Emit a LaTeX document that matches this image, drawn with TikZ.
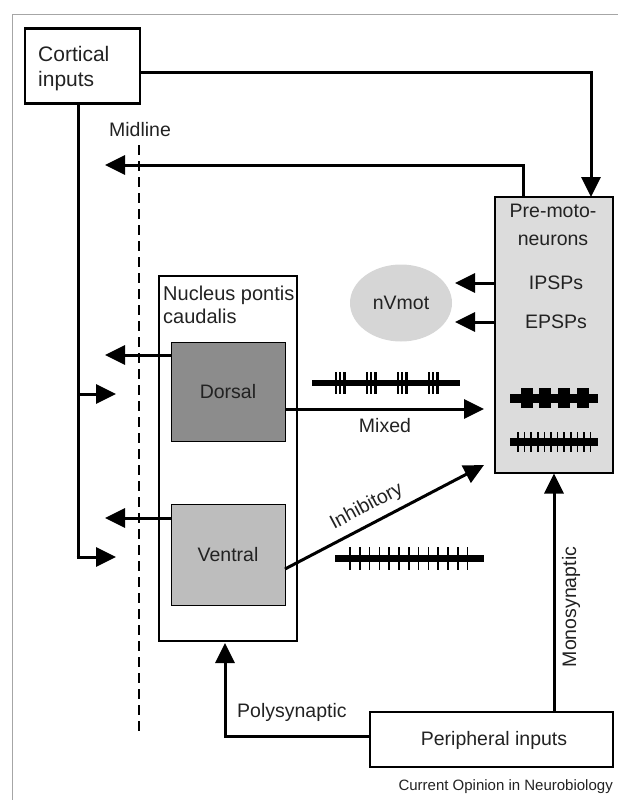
\documentclass[tikz,border=0pt]{standalone}
\usepackage{fontspec}
\setmainfont{Liberation Sans}
\usetikzlibrary{arrows.meta,shapes.geometric}
\definecolor{txt}{HTML}{222222}
\definecolor{boxgray}{HTML}{DCDCDC}
\definecolor{dorsalgray}{HTML}{8C8C8C}
\definecolor{ventralgray}{HTML}{BDBDBD}
\definecolor{ellgray}{HTML}{D6D6D6}
\tikzset{
  lbl/.style={font=\fontsize{19.5}{23}\selectfont, text=txt, inner sep=0pt},
  conn/.style={line width=3pt, -{Triangle[length=20pt,width=19pt]}},
  plain/.style={line width=3pt},
  frame/.style={draw, line width=2.2pt, rectangle},
}
\begin{document}
\begin{tikzpicture}[x=1pt,y=-1pt]
\useasboundingbox (0,0) rectangle (618,800);
% outer frame
\draw[gray!70, line width=1pt] (12,800) -- (12,15) -- (618,15);
% cortical inputs
\node[frame, line width=2.8pt, minimum width=115pt, minimum height=75pt] (cort) at (82.5,66) {};
\node[lbl, font=\fontsize{21}{24}\selectfont, align=left, anchor=west] at (38,69) {Cortical\\[1pt]inputs};
% pre-moto box
\node[frame, fill=boxgray, minimum width=118pt, minimum height=276pt] (pre) at (554,335) {};
\node[lbl, align=center] at (553,225) {Pre-moto-\\[5pt]neurons};
\node[lbl] (ipsp) at (556,283) {IPSPs};
\node[lbl] (epsp) at (556,322) {EPSPs};
% nVmot
\node[ellipse, fill=ellgray, minimum width=102pt, minimum height=77pt, inner sep=0pt] (nv) at (401,303) {};
\node[lbl] at (401,303) {nVmot};
% nucleus box
\node[frame, minimum width=138pt, minimum height=365pt] (nuc) at (228,458.5) {};
\node[lbl, font=\fontsize{20}{23}\selectfont, align=left, anchor=north west] at (163,286) {Nucleus pontis\\[0pt]caudalis};
\node[draw, line width=1pt, fill=dorsalgray, minimum width=114pt, minimum height=99pt] (dor) at (228,392) {};
\node[lbl] at (228,392) {Dorsal};
\node[draw, line width=1pt, fill=ventralgray, minimum width=114pt, minimum height=101pt] (ven) at (228,555) {};
\node[lbl] at (228,555) {Ventral};
% peripheral inputs
\node[frame, line width=2.5pt, minimum width=243pt, minimum height=55pt] (per) at (491.5,739.5) {};
\node[lbl] at (494,740) {Peripheral inputs};
% midline
\draw[line width=2.2pt, dash pattern=on 10pt off 6pt] (139,145) -- (139,736);
\node[lbl] (mid) at (140,130) {Midline};
% coordinates
\coordinate (c1) at (591,72);
\coordinate (c2) at (591,197);
\coordinate (ml1) at (105,165);
\coordinate (ml2) at (105,355);
\coordinate (ml3) at (105,518);
\coordinate (r1) at (116,394);
\coordinate (r2) at (116,557);
\coordinate (mx) at (484,409);
\coordinate (inh) at (484,465);
% cortical connections
\draw[plain] (cort.east |- c1) -- (591,72) -- (591,180);
\draw[conn] (591,170) -- (c2);
\draw[plain] (78,103.5) -- (78,557);
\draw[conn] (78,394) -- (r1);
\draw[conn] (76.5,557) -- (r2);
% premoto back to midline
\draw[conn] (523,197.5) -- (523,165) -- (ml1);
% dorsal / ventral to midline
\draw[conn] (dor.west |- ml2) -- (ml2);
\draw[conn] (ven.west |- ml3) -- (ml3);
% ipsp / epsp
\draw[conn] (495,283) -- (455,283);
\draw[conn] (495,322) -- (455,322);
% mixed
\draw[conn] (285,409) -- (mx);
\node[lbl] at (385,426) {Mixed};
% inhibitory
\draw[conn] (285,569) -- (inh);
\node[lbl, rotate=28, anchor=base] at (369,511) {Inhibitory};
% monosynaptic
\draw[conn] (554,712) -- (554,473.5);
\node[lbl, rotate=90] at (571,607) {Monosynaptic};
% polysynaptic
\draw[conn] (per.west |- 0,736) -- (225,736) -- (225,643);
\node[lbl, anchor=west] at (237,712) {Polysynaptic};
% credit
\node[font=\fontsize{15}{18}\selectfont, text=txt, anchor=east, inner sep=0pt] at (613,787) {Current Opinion in Neurobiology};
% mixed bar
\draw[line width=6pt] (312,383) -- (460,383);
\foreach \x in {336,367,398,429}{
  \foreach \d in {0,4,8.5}{ \draw[line width=2.4pt] (\x+\d,372) -- (\x+\d,394); }
}
% bar with blocks in premoto
\draw[line width=9pt] (510,398) -- (598,398);
\foreach \x in {527,545,564,583}{ \fill (\x-6,388) rectangle (\x+6,408); }
% ticked bar in premoto
\draw[line width=8pt] (510,442) -- (598,442);
\foreach \i in {0,...,11}{ \draw[line width=1.5pt] (518+\i*6.6,432) -- (518+\i*6.6,452); }
% ticked bar (inhibitory)
\draw[line width=7pt] (335,558) -- (484,558);
\foreach \i in {0,...,12}{ \draw[line width=1.6pt] (350+\i*9.8,547) -- (350+\i*9.8,570); }
\end{tikzpicture}
\end{document}
